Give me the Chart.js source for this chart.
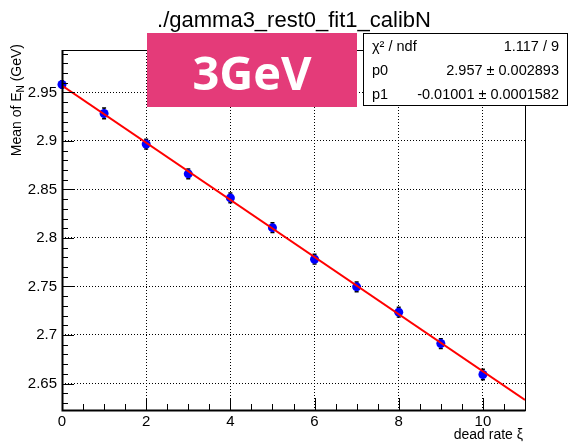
<!DOCTYPE html>
<html>
<head>
<meta charset="utf-8">
<script src="https://cdn.jsdelivr.net/npm/chart.js@4.4.1/dist/chart.umd.min.js"></script>
<style>
  html, body { margin: 0; padding: 0; background: #fff; }
  #wrap { width: 569px; height: 443px; }
</style>
</head>
<body>
<div id="wrap"><canvas id="calibChart" width="569" height="443"></canvas></div>
<script>
// measured mean energy vs dead rate, with fit
const deadRate = [0, 1, 2, 3, 4, 5, 6, 7, 8, 9, 10];
const meanEN = [2.9582, 2.9283, 2.8967, 2.8661, 2.8413, 2.8106, 2.7781, 2.7496, 2.7235, 2.6912, 2.6593];
const meanErr = [0.0035, 0.0055, 0.005, 0.005, 0.005, 0.005, 0.005, 0.005, 0.005, 0.005, 0.0055];
const fitX = [0, 11];
const fitY = [2.957, 2.633];

const xMajor = [0, 2, 4, 6, 8, 10];
const yMajor = [2.65, 2.7, 2.75, 2.8, 2.85, 2.9, 2.95];
const xRange = [0, 11];
const yRange = [2.6227, 2.9937];

const statRows = [
  ['χ² / ndf', '1.117 / 9'],
  ['p0', '2.957 ± 0.002893'],
  ['p1', '-0.01001 ± 0.0001582']
];

const FONT = '"Liberation Sans", Arial, sans-serif';
const near = (v, list) => list.some(m => Math.abs(m - v) < 1e-6);

const rootFrame = {
  id: 'rootFrame',
  beforeDatasetsDraw(chart) {
    const { ctx, scales: { x, y } } = chart;
    ctx.save();
    ctx.strokeStyle = '#000';
    ctx.lineWidth = 1.5;
    deadRate.forEach((d, i) => {
      const px = x.getPixelForValue(d);
      const top = y.getPixelForValue(meanEN[i] + meanErr[i]);
      const bot = y.getPixelForValue(meanEN[i] - meanErr[i]);
      ctx.beginPath();
      ctx.moveTo(px, top); ctx.lineTo(px, bot);
      ctx.moveTo(px - 2, top); ctx.lineTo(px + 2, top);
      ctx.moveTo(px - 2, bot); ctx.lineTo(px + 2, bot);
      ctx.stroke();
    });
    ctx.restore();
  },
  afterDraw(chart) {
    const { ctx, chartArea: a, scales: { x, y } } = chart;
    ctx.save();

    // frame
    ctx.strokeStyle = '#000';
    ctx.lineWidth = 1;
    ctx.strokeRect(a.left + 0.5, a.top + 0.5, a.right - a.left, a.bottom - a.top);
    ctx.lineWidth = 2;
    ctx.beginPath();
    ctx.moveTo(a.left + 0.5, a.top); ctx.lineTo(a.left + 0.5, a.bottom + 0.5);
    ctx.lineTo(a.right + 0.5, a.bottom + 0.5);
    ctx.stroke();

    // inward tick marks
    ctx.lineWidth = 1;
    ctx.beginPath();
    x.ticks.forEach(t => {
      const px = Math.round(x.getPixelForValue(t.value)) + 0.5;
      const len = near(t.value, xMajor) ? 12 : 6;
      ctx.moveTo(px, a.bottom); ctx.lineTo(px, a.bottom - len);
    });
    y.ticks.forEach(t => {
      const py = Math.round(y.getPixelForValue(t.value)) + 0.5;
      const len = near(t.value, yMajor) ? 12 : 6;
      ctx.moveTo(a.left, py); ctx.lineTo(a.left + len, py);
    });
    ctx.stroke();

    // energy tag
    ctx.fillStyle = '#e43b79';
    ctx.fillRect(147, 33, 210, 74);
    ctx.fillStyle = '#fff';
    ctx.font = 'bold 47px "Open Sans", sans-serif';
    ctx.textAlign = 'center';
    ctx.textBaseline = 'alphabetic';
    ctx.fillText('3GeV', 252, 90);

    // fit statistics box
    ctx.fillStyle = '#fff';
    ctx.fillRect(363, 33, 205, 73);
    ctx.strokeStyle = '#000';
    ctx.strokeRect(363.5, 33.5, 204, 72);
    ctx.fillStyle = '#000';
    ctx.font = '14.5px ' + FONT;
    statRows.forEach((row, i) => {
      const base = 51 + i * 24;
      ctx.textAlign = 'left';
      ctx.fillText(row[0], 372, base);
      ctx.textAlign = 'right';
      ctx.fillText(row[1], 559, base);
    });

    // title
    ctx.font = '22px ' + FONT;
    ctx.textAlign = 'center';
    ctx.fillText('./gamma3_rest0_fit1_calibN', 294, 27);

    // x axis title
    ctx.font = '14px ' + FONT;
    ctx.textAlign = 'right';
    ctx.fillText('dead rate ξ', 523, 439);

    // y axis title with subscript, ending at the top of the axis
    ctx.translate(21, 44);
    ctx.rotate(-Math.PI / 2);
    ctx.textAlign = 'left';
    const p1 = 'Mean of E', sub = 'N', p2 = ' (GeV)';
    ctx.font = '14px ' + FONT;
    const w1 = ctx.measureText(p1).width;
    const w3 = ctx.measureText(p2).width;
    ctx.font = '10px ' + FONT;
    const w2 = ctx.measureText(sub).width;
    let cx = -(w1 + w2 + w3);
    ctx.font = '14px ' + FONT;
    ctx.fillText(p1, cx, 0); cx += w1;
    ctx.font = '10px ' + FONT;
    ctx.fillText(sub, cx, 3); cx += w2;
    ctx.font = '14px ' + FONT;
    ctx.fillText(p2, cx, 0);

    ctx.restore();
  }
};

new Chart(document.getElementById('calibChart'), {
  type: 'scatter',
  data: {
    datasets: [
      {
        data: fitX.map((v, i) => ({ x: v, y: fitY[i] })),
        showLine: true,
        borderColor: '#ff0000',
        borderWidth: 2,
        pointRadius: 0,
        order: 0
      },
      {
        data: deadRate.map((v, i) => ({ x: v, y: meanEN[i] })),
        backgroundColor: '#0000ff',
        borderWidth: 0,
        pointRadius: 4.5,
        clip: false,
        order: 1
      }
    ]
  },
  options: {
    responsive: false,
    animation: false,
    events: [],
    layout: { padding: { left: 0, top: 50, right: 44, bottom: 0 } },
    plugins: { legend: { display: false }, tooltip: { enabled: false } },
    scales: {
      x: {
        type: 'linear',
        min: xRange[0],
        max: xRange[1],
        afterBuildTicks: s => {
          const t = [];
          for (let i = 0; i <= 22; i++) t.push({ value: i / 2 });
          s.ticks = t;
        },
        afterFit: s => { s.height = 33; },
        grid: {
          color: c => (c.tick && near(c.tick.value, xMajor) && c.tick.value > 0) ? '#000' : 'rgba(0,0,0,0)',
          lineWidth: 1,
          drawTicks: false
        },
        border: { display: false, dash: [1, 2] },
        ticks: {
          autoSkip: false,
          maxRotation: 0,
          padding: 3,
          color: '#000',
          font: { family: FONT, size: 15 },
          callback: v => near(v, xMajor) ? String(v) : ''
        }
      },
      y: {
        type: 'linear',
        min: yRange[0],
        max: yRange[1],
        afterBuildTicks: s => {
          const t = [];
          for (let i = 263; i <= 299; i++) t.push({ value: i / 100 });
          s.ticks = t;
        },
        afterFit: s => { s.width = 62; },
        grid: {
          color: c => (c.tick && near(c.tick.value, yMajor)) ? '#000' : 'rgba(0,0,0,0)',
          lineWidth: 1,
          drawTicks: false
        },
        border: { display: false, dash: [1, 2] },
        ticks: {
          autoSkip: false,
          padding: 5,
          color: '#000',
          font: { family: FONT, size: 15 },
          callback: v => near(v, yMajor) ? String(+v.toFixed(2)) : ''
        }
      }
    }
  },
  plugins: [rootFrame]
});
</script>
</body>
</html>
